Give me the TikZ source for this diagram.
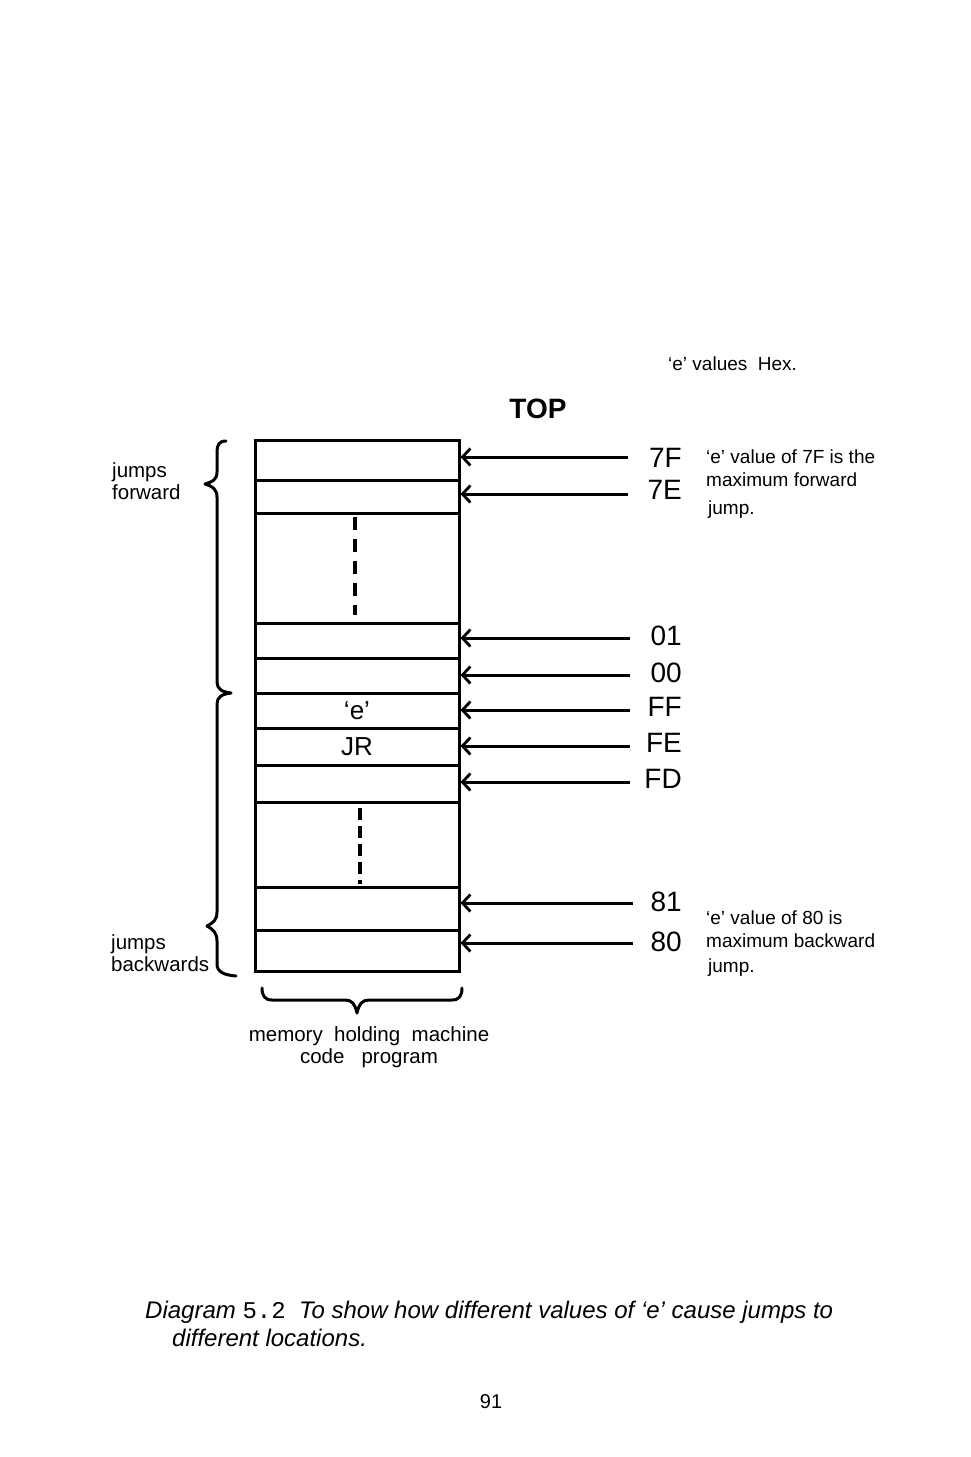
\documentclass[tikz,border=0pt]{standalone}
\usepackage{fontspec}
\setmainfont{Liberation Sans}
\setmonofont{Liberation Mono}
\usetikzlibrary{arrows.meta}
\begin{document}
\begin{tikzpicture}[x=1pt,y=-1pt,
  cell/.style={draw, line width=3pt, minimum width=204pt, inner sep=0pt, font=\fontsize{26}{28}\selectfont},
  arr/.style={line width=3pt, -{Straight Barb[length=8pt,width=17pt,line width=2.8pt]}},
  small/.style={font=\fontsize{19}{22}\selectfont, inner sep=0pt},
  lbl/.style={font=\fontsize{20.5}{22}\selectfont, inner sep=0pt},
  hex/.style={font=\fontsize{28}{30}\selectfont, inner sep=0pt, anchor=east},
  brace/.style={line width=3pt, line cap=round, line join=round},
  dots/.style={line width=3.4pt}
]
\fill[white] (0,0) rectangle (970,1457);
\useasboundingbox (0,0) rectangle (970,1457);

% memory cells
\node[cell, minimum height=40pt] (r1) at (357,460) {};
\node[cell, minimum height=33pt] (r2) at (357,496.5) {};
\node[cell, minimum height=110pt] (r3) at (357,568) {};
\node[cell, minimum height=35pt] (r4) at (357,640.5) {};
\node[cell, minimum height=35pt] (r5) at (357,675.5) {};
\node[cell, minimum height=35pt] (r6) at (357,710.5) {‘e’};
\node[cell, minimum height=37pt] (r7) at (357,746.5) {JR};
\node[cell, minimum height=37pt] (r8) at (357,783.5) {};
\node[cell, minimum height=85pt] (r9) at (357,844.5) {};
\node[cell, minimum height=43pt] (r10) at (357,908.5) {};
\node[cell, minimum height=41pt] (r11) at (357,950.5) {};

% dotted continuation marks
\coordinate (d1a) at (355,517); \coordinate (d1b) at (355,615);
\draw[dots, dash pattern=on 13pt off 9pt] (d1a) -- (d1b);
\coordinate (d2a) at (360,808); \coordinate (d2b) at (360,884);
\draw[dots, dash pattern=on 12pt off 6pt] (d2a) -- (d2b);

% arrow starts
\coordinate (a1) at (628,457);
\coordinate (a2) at (628,494);
\coordinate (a4) at (630,638);
\coordinate (a5) at (630,675);
\coordinate (a6) at (630,710);
\coordinate (a7) at (630,746);
\coordinate (a8) at (630,782);
\coordinate (a10) at (633,903);
\coordinate (a11) at (633,943);

\draw[arr] (a1) -- (a1 -| r1.east);
\draw[arr] (a2) -- (a2 -| r2.east);
\draw[arr] (a4) -- (a4 -| r4.east);
\draw[arr] (a5) -- (a5 -| r5.east);
\draw[arr] (a6) -- (a6 -| r6.east);
\draw[arr] (a7) -- (a7 -| r7.east);
\draw[arr] (a8) -- (a8 -| r8.east);
\draw[arr] (a10) -- (a10 -| r10.east);
\draw[arr] (a11) -- (a11 -| r11.east);

% hex labels
\node[hex] (h1) at (682,458) {7F};
\node[hex] (h2) at (682,490) {7E};
\node[hex] (h4) at (682,636) {01};
\node[hex] (h5) at (682,673) {00};
\node[hex] (h6) at (682,707) {FF};
\node[hex] (h7) at (682,743) {FE};
\node[hex] (h8) at (682,779) {FD};
\node[hex] (h10) at (682,902) {81};
\node[hex] (h11) at (682,942) {80};

% headings
\node[small, anchor=west] (hdr) at (668,364) {‘e’ values\ \ Hex.};
\node[font=\fontsize{28}{30}\selectfont\bfseries, inner sep=0pt] (top) at (538,409) {TOP};

% right notes
\node[small, anchor=west] (n1) at (706,457) {‘e’ value of 7F is the};
\node[small, anchor=west] (n2) at (706,480) {maximum forward};
\node[small, anchor=west] (n3) at (708,510) {jump.};
\node[small, anchor=west] (n4) at (706,918) {‘e’ value of 80 is};
\node[small, anchor=west] (n5) at (706,941) {maximum backward};
\node[small, anchor=west] (n6) at (708,968) {jump.};

% left labels
\node[lbl, anchor=west, align=left] (jf) at (112,481) {jumps\\forward};
\node[lbl, anchor=west, align=left] (jb) at (111,953) {jumps\\backwards};

% left braces
\draw[brace] (226,441) .. controls (219,441) and (217,445) .. (217,452)
  -- (217,472) .. controls (217,480) and (212,482) .. (205,484)
  .. controls (212,486) and (217,489) .. (217,497)
  -- (217,682) .. controls (217,689) and (222,692) .. (231,693);
\draw[brace] (231,693) .. controls (222,694) and (217,697) .. (217,704)
  -- (217,912) .. controls (217,920) and (213,923) .. (207,926)
  .. controls (213,929) and (217,933) .. (217,941)
  -- (217,964) .. controls (217,972) and (224,975) .. (236,976);

% bottom brace
\draw[brace] (262,988) .. controls (262,996) and (265,1000) .. (272,1000)
  -- (345,1000) .. controls (352,1000) and (355,1004) .. (357,1013)
  .. controls (359,1004) and (362,1000) .. (369,1000)
  -- (452,1000) .. controls (459,1000) and (462,996) .. (462,988);
\node[lbl, align=center] (mem) at (369,1047) {memory\ \ holding\ \ machine\\code\ \ \ program};

% caption
\node[font=\fontsize{24}{26}\selectfont\itshape, inner sep=0pt, anchor=base west] (cap1) at (145,1318)
  {Diagram {\upshape\ttfamily 5.2}\ \ To show how different values of ‘e’ cause jumps to};
\node[font=\fontsize{24}{26}\selectfont\itshape, inner sep=0pt, anchor=base west] (cap2) at (172,1346)
  {different locations.};
\node[font=\fontsize{20}{22}\selectfont, inner sep=0pt] (pg) at (491,1402) {91};
\end{tikzpicture}
\end{document}
